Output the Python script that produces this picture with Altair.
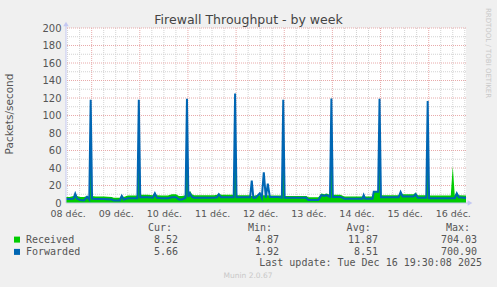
import altair as alt
import pandas as pd

# ---- data (hours since 08 déc. 00:00) ----
hours = [11.2, 13, 15, 15.8, 16.7, 18.2, 20.2, 21.7, 22.8, 23.5, 24.2, 26, 30, 34, 35, 38, 39, 40,
         42, 46.8, 47.5, 48.2, 52, 54.5, 55.5, 56.5, 59, 62, 64, 66, 67.5, 69, 70.8, 71.5, 72.2,
         73, 74, 75, 80, 85, 86.5, 87.4, 88.5, 94.8, 95.5, 96.2, 103, 103.8, 104.6, 105.8, 107.8,
         108.8, 109.8, 110.8, 111.8, 112.8, 116.8, 118.8, 119.5, 120.2, 131, 132, 137, 138.5, 140,
         141, 142.8, 143.5, 144.2, 148, 150, 159, 159.6, 160.3, 164, 164.6, 166.8, 167.5, 168.2,
         177, 178, 179, 184.5, 185.5, 186.5, 190.8, 191.5, 192.2, 203, 204, 205, 206, 207, 210.6]
received = [7, 7, 8, 12, 8, 7, 7, 8, 7, 120, 8, 7.5, 7.5, 7, 6, 6, 9, 7,
            8.5, 8.5, 120, 9.5, 9.5, 9, 12, 9, 8.5, 8.5, 10, 10, 8, 8, 9, 121, 10,
            14, 10, 9, 9, 9, 9.5, 11, 9.5, 9.5, 127, 9, 9, 8, 8, 9, 9,
            9, 9, 9, 9, 8.5, 8.5, 8.5, 120, 8, 8, 6.5, 6.5, 11, 10,
            11, 9.5, 122, 9.5, 9.5, 7.5, 7.5, 10, 7.5, 7.5, 13, 13, 121, 9,
            9, 13, 10, 10, 12, 9, 9, 119, 8.5, 8.5, 42, 8.5, 12, 9, 8.5]
forwarded = [4.5, 4.5, 5, 10.5, 5, 3.5, 3, 7, 4, 118, 5, 4.5, 4.5, 4, 3, 3, 8, 4,
             5.5, 5.5, 118, 6.5, 6.5, 6, 11, 6, 5.5, 5.5, 6.5, 6.5, 4, 4, 6, 119, 7,
             11, 7, 6, 6, 6, 6.5, 10, 6.5, 6.5, 125, 6.5, 6.5, 25.5, 6, 6, 11,
             6, 35, 6, 22, 7, 7, 6, 118, 6, 6, 3.5, 3.5, 9, 8,
             9, 7, 119.5, 7, 7, 5, 5, 9, 5, 5, 13, 13, 119, 6.5,
             6.5, 12.5, 7.5, 7.5, 10, 6, 6, 116.5, 5.5, 5.5, 5.5, 5.5, 11, 6.5, 5.7]

day_labels = ["08 déc.", "09 déc.", "10 déc.", "11 déc.", "12 déc.",
              "13 déc.", "14 déc.", "15 déc.", "16 déc."]
label_hours = [12 + 24 * i for i in range(len(day_labels))]
y_ticks = list(range(0, 201, 20))

series = ["Received", "Forwarded"]
series_colors = ["#00CC00", "#0066B3"]
cur_vals = ["8.52", "5.66"]
min_vals = ["4.87", "1.92"]
avg_vals = ["11.87", "8.51"]
max_vals = ["704.03", "700.90"]
headers = ["Cur:", "Min:", "Avg:", "Max:"]
title_text = "Firewall Throughput - by week"
y_title = "Packets/second"
last_update = "Last update: Tue Dec 16 19:30:08 2025"
munin_version = "Munin 2.0.67"
side_text = "RRDTOOL / TOBI OETIKER"

X_DOMAIN = [11.2, 210.6]
W, H = 400, 175

df = pd.DataFrame({"h": hours, "received": received, "forwarded": forwarded})
xs = alt.Scale(domain=X_DOMAIN, nice=False, zero=False)
ys = alt.Scale(domain=[0, 200], nice=False)

label_expr = "[" + ",".join("'%s'" % l for l in day_labels) + "][round((datum.value - 12) / 24)]"
x_axis = alt.Axis(values=label_hours, labelExpr=label_expr, domain=False, ticks=False, grid=False,
                  title=None, labelFont="DejaVu Sans", labelFontSize=9.5, labelColor="#555555",
                  labelPadding=5, labelAngle=0)
y_axis = alt.Axis(values=y_ticks, domain=False, ticks=False, grid=False, title=None,
                  labelFont="DejaVu Sans", labelFontSize=10, labelColor="#555555", labelPadding=5)

# grid positions
minor_x = [h for h in range(12, 211, 6) if h % 24 != 0]
major_x = [h for h in range(24, 211, 24)]
minor_y = list(range(10, 200, 20))
major_y = list(range(20, 201, 20))

GRID_MINOR = "#d2d2d2"
GRID_MAJOR = "#e8aaaa"
grid_minor_x = alt.Chart(pd.DataFrame({"h": minor_x})).mark_rule(
    color=GRID_MINOR, strokeDash=[1, 1], strokeWidth=1).encode(x=alt.X("h:Q", scale=xs, axis=x_axis))
grid_major_x = alt.Chart(pd.DataFrame({"h": major_x})).mark_rule(
    color=GRID_MAJOR, strokeDash=[1, 1], strokeWidth=1).encode(x=alt.X("h:Q", scale=xs, axis=x_axis))
grid_minor_y = alt.Chart(pd.DataFrame({"v": minor_y})).mark_rule(
    color=GRID_MINOR, strokeDash=[1, 1], strokeWidth=1).encode(y=alt.Y("v:Q", scale=ys, axis=y_axis))
grid_major_y = alt.Chart(pd.DataFrame({"v": major_y})).mark_rule(
    color=GRID_MAJOR, strokeDash=[1, 1], strokeWidth=1).encode(y=alt.Y("v:Q", scale=ys, axis=y_axis))

area = alt.Chart(df).mark_area(color=series_colors[0], interpolate="linear").encode(
    x=alt.X("h:Q", scale=xs, axis=x_axis),
    y=alt.Y("received:Q", scale=ys, axis=y_axis))
line = alt.Chart(df).mark_line(color=series_colors[1], strokeWidth=2, interpolate="linear").encode(
    x=alt.X("h:Q", scale=xs, axis=x_axis),
    y=alt.Y("forwarded:Q", scale=ys, axis=y_axis))

one = pd.DataFrame({"a": [0]})
AXC = "#c4c8f2"
yaxis_line = alt.Chart(one).mark_rule(color=AXC, strokeWidth=1).encode(
    x=alt.value(0), y=alt.value(H), y2=alt.value(-4))
xaxis_line = alt.Chart(one).mark_rule(color=AXC, strokeWidth=1).encode(
    x=alt.value(0), x2=alt.value(W + 4), y=alt.value(H))
arrow_up = alt.Chart(one).mark_point(shape="triangle-up", filled=True, color=AXC, size=30, opacity=1).encode(
    x=alt.value(0), y=alt.value(-4))
arrow_right = alt.Chart(one).mark_point(shape="triangle-right", filled=True, color=AXC, size=30, opacity=1).encode(
    x=alt.value(W + 4), y=alt.value(H))


def txt(text, x, y, align="left", size=10, font="DejaVu Sans Mono", color="#555555", angle=0,
        baseline="middle"):
    kw = dict(text=text, align=align, baseline=baseline, fontSize=size, font=font, color=color)
    if angle:
        kw["angle"] = angle
    return alt.Chart(one).mark_text(**kw).encode(x=alt.value(x), y=alt.value(y))


texts = [
    txt(title_text, 182.5, -8, align="center", size=12.5, font="DejaVu Sans", color="#444444"),
    txt(y_title, -56, 86, align="center", size=10.5, font="DejaVu Sans", color="#555555", angle=270),
    txt(side_text, 422, 25, align="center", size=7, font="DejaVu Sans", color="#c8c8c8", angle=90),
    txt(last_update, 416, 235, align="right"),
    txt(munin_version, 182, 248, align="center", size=7.5, font="DejaVu Sans", color="#c8c8c8"),
]
header_x = [106, 206, 304.7, 404]
value_x = [112, 213, 312, 411]
for hx, htxt in zip(header_x, headers):
    texts.append(txt(htxt, hx, 200.3, align="right"))
cols = [cur_vals, min_vals, avg_vals, max_vals]
for i, name in enumerate(series):
    yy = 211.6 + 12.3 * i
    texts.append(alt.Chart(one).mark_square(color=series_colors[i], size=36, opacity=1, filled=True).encode(
        x=alt.value(-49), y=alt.value(yy)))
    texts.append(txt(name, -40, yy))
    for vx, col in zip(value_x, cols):
        texts.append(txt(col[i], vx, yy, align="right"))

chart = alt.layer(
    grid_minor_x, grid_minor_y, grid_major_x, grid_major_y,
    area, line,
    yaxis_line, xaxis_line, arrow_up, arrow_right,
    *texts
).properties(
    width=W, height=H,
    autosize=alt.AutoSizeParams(type="none"),
    padding={"left": 66, "top": 28, "right": 31, "bottom": 84},
    background="#F0F0F0",
).configure_view(fill="white", stroke=None)

chart.save("out.html", embed_options={"renderer": "svg", "actions": False})
